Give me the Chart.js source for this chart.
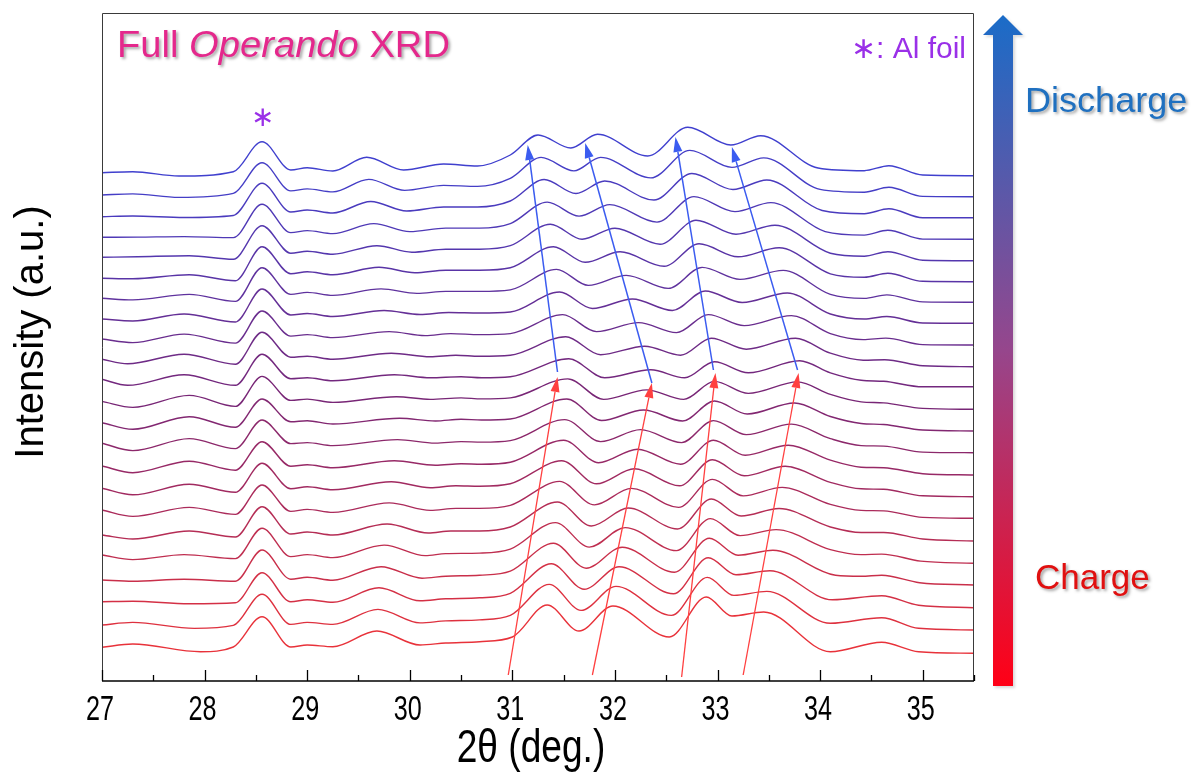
<!DOCTYPE html>
<html>
<head>
<meta charset="utf-8">
<title>Full Operando XRD</title>
<script src="https://cdn.jsdelivr.net/npm/chart.js@4.4.1/dist/chart.umd.min.js"></script>
<style>
  html, body { margin: 0; padding: 0; background: #ffffff; }
  #wrap { position: relative; width: 1192px; height: 783px; }
  canvas { display: block; }
</style>
</head>
<body>
<div id="wrap"><canvas id="xrd" width="1192" height="783"></canvas></div>
<script>
// 2θ range and labelled ticks
const thetaMin = 27;
const thetaMax = 35.5;
const tickLabels = [27, 28, 29, 30, 31, 32, 33, 34, 35];

// vertical stacking of the scans (axis units)
const stackBase = 30;
const stackStep = 21.6;

// Each scan: flat list of (2θ, intensity) pairs, first scan = start of charge
const scan00 = [27,3.7, 27.3,7, 27.96,-0.7, 28.28,4, 28.56,34.3, 28.84,4, 29.0,6, 29.25,4.3, 29.68,20, 30.1,6, 30.35,8, 30.68,9.3, 31.0,14, 31.34,46, 31.65,20, 31.98,45, 32.53,14, 32.89,54, 33.14,35, 33.45,39, 34.1,-0.7, 34.6,8.7, 34.96,-0.7, 35.5,-2.3];
const scan01 = [27,4.4, 27.3,7, 27.9,1, 28.28,4, 28.56,35.1, 28.84,5, 29.0,7, 29.25,5, 29.69,20, 30.1,6.5, 30.35,8.5, 30.68,9.5, 30.98,14, 31.36,45, 31.67,19, 32.01,43, 32.55,14, 32.90,52, 33.16,34, 33.48,38, 34.1,6.1, 34.6,11.7, 34.96,1.1, 35.5,-0.6];
const scan02 = [27,6.1, 27.3,6.5, 27.85,4, 28.3,5, 28.56,35.1, 28.84,6, 29.0,8, 29.25,5.5, 29.7,20, 30.1,7, 30.35,9, 30.68,10, 30.98,14.5, 31.38,44, 31.7,18.5, 32.04,41, 32.57,14, 32.91,50, 33.18,33, 33.51,37, 34.12,8, 34.6,12, 34.96,2.5, 35.5,0.1];
const scan03 = [27,6.2, 27.3,5, 27.8,7, 28.3,5, 28.56,36.2, 28.84,7, 29.0,9, 29.25,6, 29.72,19.5, 30.12,8, 30.35,10, 30.68,11, 30.98,15, 31.40,43, 31.72,18, 32.07,39, 32.58,14, 32.92,48, 33.2,31, 33.54,36, 34.15,11, 34.4,10, 34.6,11, 34.97,3.5, 35.5,1.2];
const scan04 = [27,9.6, 27.3,5, 27.8,10, 28.3,6, 28.56,36.3, 28.84,8, 29.0,10, 29.25,7, 29.75,19.5, 30.15,9, 30.35,11, 30.68,11.5, 30.98,15.5, 31.42,42, 31.75,17.5, 32.10,37, 32.6,14, 32.93,46, 33.22,29, 33.57,35, 34.1,15, 34.4,10, 34.6,10.5, 34.98,3.5, 35.5,1.3];
const scan05 = [27,8, 27.3,4, 27.85,12, 28.3,6, 28.56,36.3, 28.84,9, 29.0,11, 29.25,8, 29.78,19, 30.18,10, 30.4,12, 30.68,12, 30.98,16, 31.44,41, 31.77,17, 32.13,35, 32.61,14, 32.94,44, 33.23,27, 33.60,34.5, 34.1,16, 34.4,10.5, 34.62,10.5, 35.0,4, 35.5,2];
const scan06 = [27,11.4, 27.3,5, 27.85,14, 28.3,7, 28.56,36.4, 28.84,10, 29.0,12, 29.25,9, 29.8,18.5, 30.2,11, 30.45,13, 30.68,13, 30.98,16, 31.46,40, 31.8,16.5, 32.16,33, 32.62,14, 32.95,42, 33.25,25.5, 33.63,34, 34.1,17, 34.4,11, 34.62,10.5, 35.0,4, 35.5,3.1];
const scan07 = [27,11.5, 27.3,5, 27.85,15.5, 28.3,7.5, 28.56,36.5, 28.84,11, 29.0,13, 29.25,10, 29.82,18, 30.2,12, 30.45,14, 30.68,13.5, 30.98,16, 31.48,39, 31.82,16, 32.19,31, 32.63,14, 32.95,40, 33.26,24, 33.66,33.5, 34.1,17.5, 34.4,11, 34.62,10.5, 35.0,4, 35.5,3.1];
const scan08 = [27,12.2, 27.3,5.5, 27.85,17, 28.3,8, 28.56,36.5, 28.84,12, 29.0,13.5, 29.25,10.5, 29.85,17.5, 30.25,13, 30.5,14.5, 30.7,14, 30.98,16, 31.50,38, 31.84,15.5, 32.22,29, 32.64,14, 32.96,38, 33.27,23, 33.69,33, 34.1,18, 34.4,11, 34.62,10.5, 35.0,4.5, 35.5,3.2];
const scan09 = [27,13.3, 27.3,6, 27.85,18, 28.3,8, 28.56,36.6, 28.84,13, 29.0,14, 29.25,11, 29.88,17, 30.25,13.5, 30.5,15, 30.7,14.5, 30.98,16, 31.51,37, 31.86,15, 32.25,27, 32.65,14, 32.96,36, 33.28,22, 33.72,32.5, 34.1,18, 34.4,11, 34.62,10.5, 35.0,4.5, 35.5,3.9];
const scan10 = [27,12.3, 27.3,5.7, 27.85,18.3, 28.3,7.7, 28.56,36, 28.84,13.3, 29.0,14.3, 29.25,11, 29.9,16.7, 30.25,14, 30.5,15.7, 30.7,15, 30.98,16, 31.53,36, 31.87,14.5, 32.28,25, 32.66,14, 32.97,34, 33.29,21, 33.75,32, 34.1,18.5, 34.4,11.5, 34.62,10.5, 35.0,5, 35.5,4];
const scan11 = [27,12, 27.3,6, 27.85,18, 28.3,7, 28.56,37, 28.84,13, 29.0,14.3, 29.25,11, 29.87,16.7, 30.2,14, 30.5,15.5, 30.7,14.5, 30.98,15.5, 31.54,34.5, 31.89,14, 32.31,23.5, 32.67,14, 32.97,32, 33.3,20, 33.78,31.5, 34.1,19, 34.4,11.5, 34.62,10.5, 35.0,5, 35.5,4.1];
const scan12 = [27,12.5, 27.25,6.5, 27.8,17, 28.3,6.5, 28.56,37.5, 28.84,13, 29.0,14, 29.25,11, 29.85,17, 30.2,14, 30.5,15, 30.7,14, 30.98,15, 31.55,33, 31.9,14, 32.35,22, 32.68,14, 32.97,30, 33.3,19, 33.80,31, 34.1,19, 34.4,11.5, 34.62,10.5, 35.0,5, 35.5,5.1];
const scan13 = [27,10.9, 27.25,6.5, 27.8,16, 28.3,6, 28.56,37.9, 28.84,13, 29.0,14, 29.25,11, 29.82,17, 30.2,13.5, 30.45,15, 30.68,14, 30.98,15, 31.52,33.5, 31.86,15.5, 32.29,24, 32.64,15, 32.94,32, 33.28,21, 33.76,32, 34.1,17, 34.42,10, 34.63,10.5, 35.0,4.5, 35.5,3.5];
const scan14 = [27,9.6, 27.3,6, 27.8,14.5, 28.3,5.5, 28.56,37.6, 28.84,12.5, 29.0,14, 29.25,11, 29.8,17, 30.15,13, 30.4,15, 30.68,14, 30.98,15, 31.49,34, 31.82,17, 32.23,26, 32.6,16, 32.91,34, 33.26,23, 33.72,33, 34.1,15, 34.42,9, 34.64,10.5, 35.0,4, 35.5,3.6];
const scan15 = [27,8, 27.3,6, 27.8,13, 28.3,5, 28.56,38, 28.84,12, 29.0,13.5, 29.25,10.5, 29.75,16.5, 30.1,12.5, 30.38,14.5, 30.68,14, 30.98,15, 31.46,35, 31.78,18.5, 32.17,28, 32.56,16.5, 32.88,36, 33.24,24.5, 33.68,34, 34.1,13, 34.43,8, 34.65,10.5, 35.0,4, 35.5,3.7];
const scan16 = [27,7.1, 27.3,5.5, 27.85,11, 28.3,4, 28.56,37.7, 28.84,11, 29.0,13, 29.25,10, 29.72,16.5, 30.07,12, 30.35,14, 30.68,14, 30.98,15.5, 31.43,36, 31.74,20, 32.11,30, 32.52,17, 32.85,38, 33.22,26, 33.64,35, 34.1,11, 34.43,7, 34.65,10.5, 35.0,3.5, 35.5,3.1];
const scan17 = [27,5.5, 27.3,5, 27.85,9, 28.3,3, 28.56,37.1, 28.84,10, 29.0,12, 29.25,9, 29.7,16.5, 30.05,11, 30.35,13.5, 30.68,13.5, 30.98,16, 31.40,37, 31.71,21.5, 32.05,32, 32.48,17.5, 32.82,40, 33.2,27, 33.60,36, 34.1,10, 34.43,6.5, 34.66,10.5, 35.0,2.5, 35.5,2.1];
const scan18 = [27,4.9, 27.35,5.5, 27.85,6.5, 28.28,3, 28.56,36.5, 28.84,9, 29.0,11, 29.25,8, 29.68,16.5, 30.02,10, 30.35,13, 30.68,13, 30.98,16.5, 31.37,38, 31.68,23, 32.00,34, 32.44,18, 32.79,42, 33.18,28, 33.56,37, 34.1,9, 34.43,6, 34.66,10.5, 35.0,2, 35.5,1.5];
const scan19 = [27,3.3, 27.35,3.5, 27.8,4, 28.28,3, 28.56,36.3, 28.84,8, 29.0,10, 29.25,7, 29.65,17, 30.0,9, 30.35,12.5, 30.68,12.5, 30.98,17, 31.34,38.5, 31.65,24.5, 31.95,36, 32.41,18.5, 32.77,44, 33.17,29, 33.52,38, 34.05,9, 34.43,5.5, 34.66,10.3, 35.0,1.5, 35.5,1.3];
const scan20 = [27,2.3, 27.3,3, 27.8,1.5, 28.28,3.5, 28.56,35.7, 28.84,7, 29.0,9, 29.25,6, 29.62,17.5, 29.97,8, 30.33,12, 30.66,12, 30.98,18, 31.31,39.5, 31.62,25.5, 31.90,38, 32.38,19, 32.75,45.5, 33.15,29.5, 33.48,39, 34.02,8.5, 34.43,5.3, 34.67,10.2, 35.0,1.3, 35.5,1.3];
const scan21 = [27,2.4, 27.3,3.5, 27.75,0, 28.28,4, 28.56,34.7, 28.84,6.5, 29.0,8.5, 29.25,5.5, 29.6,18, 29.95,7, 30.33,12, 30.66,11, 30.98,19, 31.28,40, 31.6,26.5, 31.86,40, 32.35,19.5, 32.73,47, 33.14,30, 33.45,39.5, 34.0,8, 34.43,5.2, 34.67,10.1, 35.0,1, 35.5,0.7];
const scan22 = [27,3.1, 27.3,4.1, 27.75,-0.2, 28.28,4.1, 28.56,34.1, 28.84,5.8, 29.0,8.1, 29.25,4.8, 29.58,18.5, 29.94,5.8, 30.33,11.8, 30.66,9.8, 30.98,20.8, 31.25,40.8, 31.57,27.8, 31.83,41.5, 32.32,19.8, 32.71,48.5, 33.13,30.8, 33.42,40.1, 33.98,7.8, 34.43,5.1, 34.67,10.1, 35.0,0.8, 35.5,0.1];

const scans = [scan00, scan01, scan02, scan03, scan04, scan05, scan06, scan07, scan08, scan09, scan10,
               scan11, scan12, scan13, scan14, scan15, scan16, scan17, scan18, scan19, scan20, scan21, scan22];

// peak-shift guides: [2θ start, y start, 2θ end, y end] in stacked axis units
const chargeArrows = [[30.96,6, 31.44,304], [31.78,6, 32.36,298], [32.65,4, 32.98,308], [33.25,6, 33.79,308]];
const dischargeArrows = [[31.44,309, 31.15,536], [32.36,298, 31.71,538], [32.96,311, 32.59,544], [33.78,311, 33.14,534]];
const alMarker = [28.56, 563];

// trace colours: charge (red) -> turning point (purple) -> discharge (blue)
const colorStops = [[232, 50, 58], [120, 38, 118], [64, 64, 206]];
function traceColor(k, n) {
  const t = k / (n - 1);
  const seg = t < 0.5 ? 0 : 1;
  const u = seg === 0 ? t / 0.5 : (t - 0.5) / 0.5;
  const a = colorStops[seg], b = colorStops[seg + 1];
  const c = a.map((v, i) => Math.round(v + (b[i] - v) * u));
  return `rgb(${c[0]},${c[1]},${c[2]})`;
}

const datasets = scans.map((s, k) => {
  const pts = [];
  for (let i = 0; i < s.length; i += 2) {
    pts.push({ x: s[i], y: stackBase + k * stackStep + s[i + 1] });
  }
  return {
    data: pts,
    borderColor: traceColor(k, scans.length),
    borderWidth: 1.4,
    pointRadius: 0,
    fill: false,
    cubicInterpolationMode: 'monotone'
  };
});

const FONT = '"Liberation Sans", Arial, sans-serif';

function drawArrow(ctx, x0, y0, x1, y1, color, width, headLen, headW) {
  const ang = Math.atan2(y1 - y0, x1 - x0);
  const bx = x1 - headLen * Math.cos(ang), by = y1 - headLen * Math.sin(ang);
  ctx.strokeStyle = color;
  ctx.fillStyle = color;
  ctx.lineWidth = width;
  ctx.beginPath();
  ctx.moveTo(x0, y0);
  ctx.lineTo(bx, by);
  ctx.stroke();
  ctx.beginPath();
  ctx.moveTo(x1, y1);
  ctx.lineTo(bx + headW / 2 * Math.sin(ang), by - headW / 2 * Math.cos(ang));
  ctx.lineTo(bx - headW / 2 * Math.sin(ang), by + headW / 2 * Math.cos(ang));
  ctx.closePath();
  ctx.fill();
}

// text drawn with a horizontal stretch factor (narrow axis lettering)
function stretchedText(ctx, text, x, y, font, sx, align) {
  ctx.save();
  ctx.translate(x, y);
  ctx.scale(sx, 1);
  ctx.font = font;
  ctx.textAlign = align;
  ctx.fillText(text, 0, 0);
  ctx.restore();
}

const decorations = {
  id: 'decorations',
  afterDraw(chart) {
    const ctx = chart.ctx;
    const xs = chart.scales.x, ys = chart.scales.y;
    const a = chart.chartArea;
    ctx.save();

    // plot frame
    ctx.strokeStyle = '#3a3a3a';
    ctx.lineWidth = 1;
    ctx.beginPath();
    ctx.moveTo(a.left + 0.5, a.bottom);
    ctx.lineTo(a.left + 0.5, a.top + 0.5);
    ctx.lineTo(a.right - 0.5, a.top + 0.5);
    ctx.lineTo(a.right - 0.5, a.bottom);
    ctx.stroke();
    ctx.strokeStyle = '#000';
    ctx.lineWidth = 1.6;
    ctx.beginPath();
    ctx.moveTo(a.left, a.bottom);
    ctx.lineTo(a.right, a.bottom);
    ctx.stroke();

    // inward tick marks, major every 1°, minor every 0.5°
    ctx.lineWidth = 1.3;
    for (let v = thetaMin; v <= thetaMax + 1e-9; v += 0.5) {
      const px = Math.round(xs.getPixelForValue(v)) + 0.5;
      const len = Number.isInteger(v) ? 11 : 6;
      ctx.beginPath();
      ctx.moveTo(px, a.bottom);
      ctx.lineTo(px, a.bottom - len);
      ctx.stroke();
    }

    // tick labels (narrow lettering) placed by the x scale
    ctx.fillStyle = '#000';
    ctx.textBaseline = 'alphabetic';
    tickLabels.forEach(v => {
      stretchedText(ctx, String(v), xs.getPixelForValue(v) - 2, 720, '35px ' + FONT, 0.72, 'center');
    });

    // axis titles
    stretchedText(ctx, '2\u03b8 (deg.)', 531, 762, '47px ' + FONT, 0.79, 'center');
    ctx.save();
    ctx.translate(43, 332);
    ctx.rotate(-Math.PI / 2);
    ctx.font = '40px ' + FONT;
    ctx.textAlign = 'center';
    ctx.fillText('Intensity (a.u.)', 0, 0);
    ctx.restore();

    // peak-shift guides
    chargeArrows.forEach(r => drawArrow(ctx,
      xs.getPixelForValue(r[0]), ys.getPixelForValue(r[1]),
      xs.getPixelForValue(r[2]), ys.getPixelForValue(r[3]),
      '#ff4040', 1.3, 15, 9));
    dischargeArrows.forEach(r => drawArrow(ctx,
      xs.getPixelForValue(r[0]), ys.getPixelForValue(r[1]),
      xs.getPixelForValue(r[2]), ys.getPixelForValue(r[3]),
      '#3b5cf0', 1.5, 15, 9));

    // Al foil marker and note
    ctx.fillStyle = '#9a30e8';
    ctx.font = '28px ' + FONT;
    ctx.textAlign = 'center';
    ctx.textBaseline = 'middle';
    ctx.fillText('\u2217', xs.getPixelForValue(alMarker[0]), ys.getPixelForValue(alMarker[1]));
    ctx.textAlign = 'right';
    ctx.textBaseline = 'alphabetic';
    ctx.font = '30px ' + FONT;
    ctx.fillText('\u2217: Al foil', 966, 58);

    // title with soft shadow
    ctx.save();
    ctx.shadowColor = 'rgba(0,0,0,0.35)';
    ctx.shadowOffsetX = 2;
    ctx.shadowOffsetY = 2;
    ctx.shadowBlur = 3;
    ctx.fillStyle = '#e4288c';
    ctx.translate(117, 57);
    ctx.scale(1.06, 1);
    ctx.textAlign = 'left';
    let tx = 0;
    ctx.font = '36px ' + FONT;
    ctx.fillText('Full ', tx, 0); tx += ctx.measureText('Full ').width;
    ctx.font = 'italic 36px ' + FONT;
    ctx.fillText('Operando', tx, 0); tx += ctx.measureText('Operando').width;
    ctx.font = '36px ' + FONT;
    ctx.fillText(' XRD', tx, 0);
    ctx.restore();

    // charge / discharge legend arrow
    ctx.save();
    const g = ctx.createLinearGradient(0, 15, 0, 686);
    g.addColorStop(0, 'rgb(26,108,200)');
    g.addColorStop(0.5, 'rgb(150,70,140)');
    g.addColorStop(1, 'rgb(255,0,22)');
    ctx.shadowColor = 'rgba(0,0,0,0.15)';
    ctx.shadowOffsetX = 2;
    ctx.shadowOffsetY = 2;
    ctx.shadowBlur = 3;
    ctx.fillStyle = g;
    ctx.beginPath();
    ctx.moveTo(1003, 15);
    ctx.lineTo(1023, 35);
    ctx.lineTo(1013, 35);
    ctx.lineTo(1013, 686);
    ctx.lineTo(993, 686);
    ctx.lineTo(993, 35);
    ctx.lineTo(983, 35);
    ctx.closePath();
    ctx.fill();

    ctx.shadowColor = 'rgba(0,0,0,0.35)';
    ctx.textAlign = 'left';
    ctx.fillStyle = '#1f70c0';
    stretchedText(ctx, 'Discharge', 1025, 112, '35px ' + FONT, 1.03, 'left');
    ctx.fillStyle = '#e01010';
    stretchedText(ctx, 'Charge', 1035, 589, '35px ' + FONT, 1.0, 'left');
    ctx.restore();

    ctx.restore();
  }
};

new Chart(document.getElementById('xrd'), {
  type: 'line',
  data: { datasets },
  plugins: [decorations],
  options: {
    responsive: false,
    animation: false,
    events: [],
    layout: { padding: { left: 102, right: 218, top: 13, bottom: 0 } },
    plugins: { legend: { display: false }, tooltip: { enabled: false } },
    scales: {
      x: {
        type: 'linear',
        min: thetaMin,
        max: thetaMax,
        afterFit(scale) { scale.height = 102; },
        ticks: { display: false, stepSize: 0.5 },
        grid: { display: false, drawTicks: false },
        border: { display: false }
      },
      y: {
        type: 'linear',
        display: false,
        min: 0,
        max: 668
      }
    }
  }
});
</script>
</body>
</html>
